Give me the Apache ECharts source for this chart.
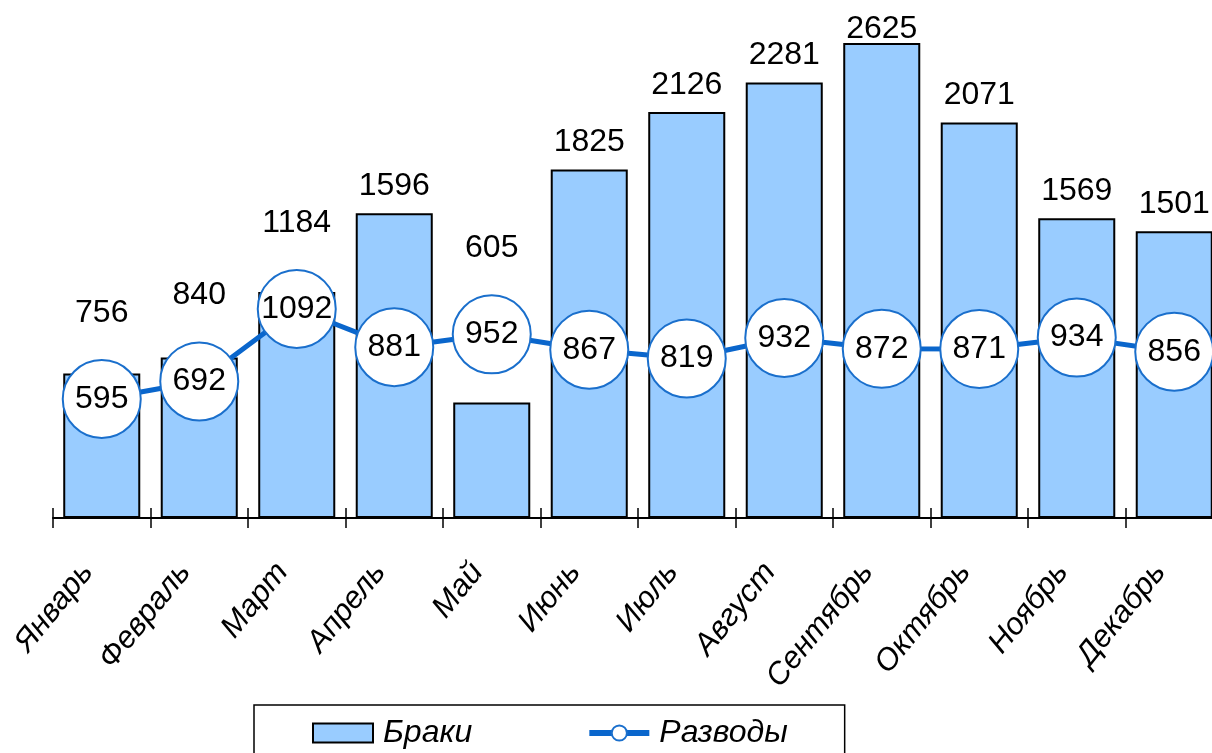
<!DOCTYPE html>
<html><head><meta charset="utf-8">
<script src="https://cdn.jsdelivr.net/npm/echarts@6/dist/echarts.min.js"></script>
<style>html,body{margin:0;padding:0;background:#fff;overflow:hidden;width:1212px;height:753px}#c{width:1240px;height:753px}</style>
</head><body><div id="c"></div>
<script>
const months = ['Январь','Февраль','Март','Апрель','Май','Июнь','Июль','Август','Сентябрь','Октябрь','Ноябрь','Декабрь'];
const marriages = [756, 840, 1184, 1596, 605, 1825, 2126, 2281, 2625, 2071, 1569, 1501];
const divorces = [595, 692, 1092, 881, 952, 867, 819, 932, 872, 871, 934, 856];
const seriesNames = ['Браки', 'Разводы'];

const FONT = '"Liberation Sans", Arial, sans-serif';
const chart = echarts.init(document.getElementById('c'), null, {renderer: 'canvas'});

const option = {
  animation: false,
  backgroundColor: '#ffffff',
  grid: {left: 53, width: 1170, top: 44, bottom: 235, containLabel: false},
  legend: {
    left: 254, top: 705,
    padding: [12, 57, 30, 58],
    borderColor: '#000', borderWidth: 1.5,
    itemWidth: 60, itemHeight: 19, itemGap: 114,
    textStyle: {fontFamily: FONT, fontSize: 32, fontStyle: 'italic', color: '#000', lineHeight: 32, padding: [0, 0, 0, 5]},
    data: [
      {name: seriesNames[0], icon: 'rect'},
      {name: seriesNames[1], lineStyle: {width: 6, color: '#0a66cc'}}
    ]
  },
  xAxis: [{
    type: 'category', data: months, boundaryGap: true,
    axisLine: {show: true, onZero: false, lineStyle: {color: '#000', width: 2}},
    axisTick: {show: true, alignWithLabel: false, length: 10, lineStyle: {color: '#000', width: 1.5}},
    axisLabel: {rotate: 51, margin: 31, padding: [0, 23, 0, 0], interval: 0,
      fontFamily: FONT, fontSize: 31, fontStyle: 'italic', color: '#000'}
  }, {
    type: 'category', data: months, boundaryGap: true, position: 'bottom',
    axisLine: {show: false, onZero: false},
    axisTick: {show: true, inside: true, alignWithLabel: false, length: 10, lineStyle: {color: '#000', width: 1.5}},
    axisLabel: {show: false}
  }],
  yAxis: [
    {type: 'value', min: 0, max: 2482, show: false, splitLine: {show: false}},
    {type: 'value', min: -62, max: 2555, show: false, splitLine: {show: false}}
  ],
  series: [{
    name: seriesNames[0], type: 'bar', xAxisIndex: 0, yAxisIndex: 0,
    data: marriages, barCategoryGap: '21%', clip: true,
    itemStyle: {color: '#99ccff', borderColor: '#000', borderWidth: 2},
    label: {show: true, position: 'top', distance: 0, lineHeight: 32,
      fontFamily: FONT, fontSize: 32, color: '#000'},
    z: 2
  }, {
    name: seriesNames[1], type: 'line', xAxisIndex: 0, yAxisIndex: 1,
    data: divorces, symbol: 'circle', symbolSize: 78,
    lineStyle: {color: '#0a66cc', width: 5},
    itemStyle: {color: '#ffffff', borderColor: '#1a6fcc', borderWidth: 2},
    label: {show: true, position: 'inside', fontFamily: FONT, fontSize: 32, color: '#000'},
    z: 3
  }]
};
chart.setOption(option);

// Place the bar value labels above the bar or the divorce circle, whichever is higher.
const gridTop = chart.convertToPixel({yAxisIndex: 0}, 2482);
const barData = marriages.map((v, i) => {
  const barTop = Math.max(chart.convertToPixel({yAxisIndex: 0}, v), gridTop);
  const circleTop = chart.convertToPixel({yAxisIndex: 1}, divorces[i]) - 39;
  let want = Math.min(barTop - 30, circleTop - 50);
  want = Math.max(want, 27);
  const base = barTop - 19;
  return {value: v, label: {offset: [0, want - base]}};
});
chart.setOption({series: [{data: barData}]});
</script>
</body></html>
